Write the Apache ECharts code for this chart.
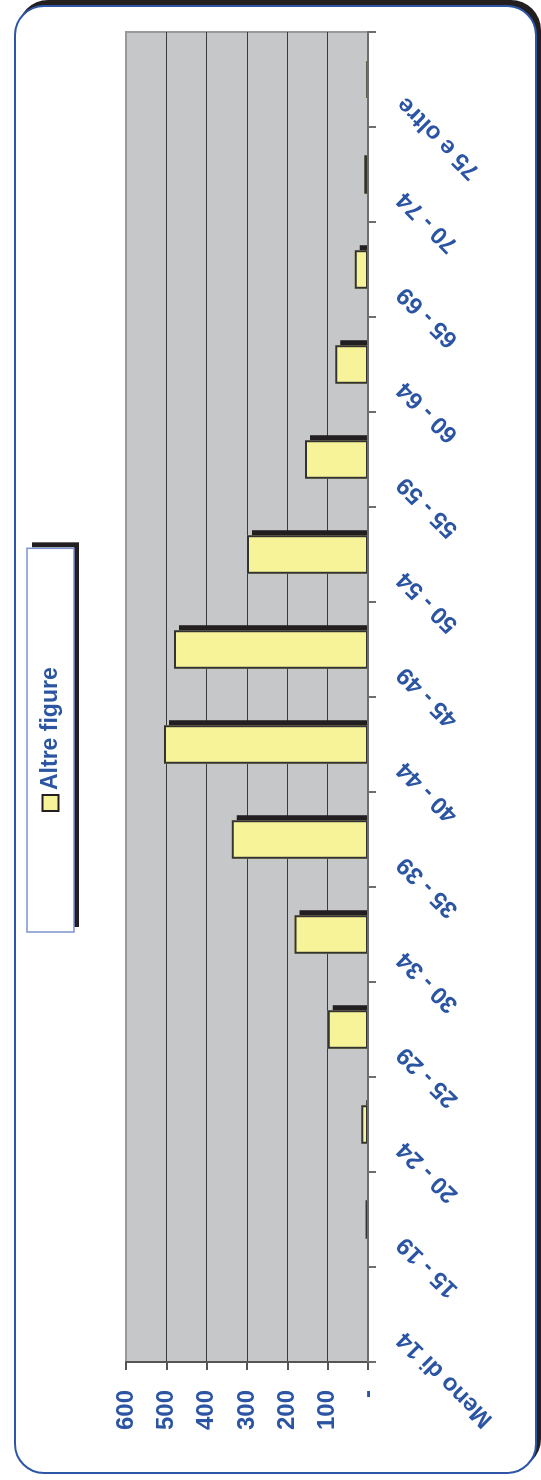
<!DOCTYPE html>
<html>
<head>
<meta charset="utf-8">
<script src="https://cdn.jsdelivr.net/npm/echarts@6.0.0/dist/echarts.min.js"></script>
<style>
html,body{margin:0;padding:0;background:#fff;width:541px;height:1480px;overflow:hidden;}
#frame{position:absolute;left:14px;top:5px;width:523px;height:1469px;box-sizing:border-box;border:2.5px solid #2e56a7;border-radius:30px;box-shadow:4px -5px 0 #231f20;background:#fff;}
#chart{position:absolute;left:0;top:0;width:1480px;height:541px;transform-origin:0 0;transform:translate(0,1480px) rotate(-90deg);}
</style>
</head>
<body>
<div id="frame"></div>
<div id="chart"></div>
<script>
// ---- data ----
const categories = ['Meno di 14','15 - 19','20 - 24','25 - 29','30 - 34','35 - 39','40 - 44','45 - 49','50 - 54','55 - 59','60 - 64','65 - 69','70 - 74','75 e oltre'];
const altreFigure = [0, 6, 17, 100, 182, 338, 506, 481, 300, 156, 81, 33, 9, 4];
const valueTickLabels = ['-','100','200','300','400','500','600'];
const seriesName = 'Altre figure';

// ---- styles ----
const blue = '#2b54a3';
const font = '"Liberation Sans", Arial, sans-serif';
const legendFontSize = 23;
const legendPadH = 120, legendPadV = 12, legendIcon = 16, legendTop = 27;

// measure legend text to place the legend box border
const mctx = document.createElement('canvas').getContext('2d');
mctx.font = 'bold ' + legendFontSize + 'px ' + font;
const legendTextW = mctx.measureText(seriesName).width;
const legendBoxW = legendPadH * 2 + legendIcon + 5 + legendTextW;
const legendBoxH = legendPadV * 2 + legendFontSize;
const legendLeft = Math.round((1480 - legendBoxW) / 2);

const chart = echarts.init(document.getElementById('chart'), null, {renderer:'canvas'});
chart.setOption({
  animation: false,
  backgroundColor: 'transparent',
  grid: {
    left: 118, right: 32, top: 126, bottom: 173,
    containLabel: false, outerBoundsMode: 'none',
    show: true, backgroundColor: '#c6c7c9', borderColor: '#999', borderWidth: 2
  },
  legend: {
    data: [seriesName],
    left: legendLeft, top: legendTop,
    padding: [legendPadV, legendPadH],
    itemWidth: legendIcon, itemHeight: legendIcon,
    icon: 'rect',
    backgroundColor: '#fff',
    borderWidth: 0, borderRadius: 0,
    shadowColor: '#231f20', shadowBlur: 0, shadowOffsetX: 5, shadowOffsetY: 5,
    itemStyle: {color:'#f6f399', borderColor:'#231f20', borderWidth:2, shadowColor:'rgba(0,0,0,0)', shadowBlur:0, shadowOffsetX:0, shadowOffsetY:0},
    textStyle: {color: blue, fontSize: legendFontSize, fontWeight: 'bold', fontFamily: font, lineHeight: legendFontSize}
  },
  xAxis: {
    type: 'category',
    data: categories,
    z: 5,
    axisLine: {show: true, lineStyle: {color: '#6d6d6d', width: 2}},
    axisTick: {show: true, length: 8, lineStyle: {color: '#6d6d6d', width: 2}},
    splitLine: {show: false},
    axisLabel: {
      interval: 0, rotate: 45, margin: 12, padding: [0, 30, 0, 0],
      color: blue, fontSize: 24, fontWeight: 'bold', fontFamily: font
    }
  },
  yAxis: {
    type: 'value',
    min: 0, max: 600, interval: 100,
    axisLine: {show: true, lineStyle: {color: '#555', width: 2}},
    axisTick: {show: true, length: 8, lineStyle: {color: '#555', width: 2}},
    splitLine: {show: true, lineStyle: {color: ['#6d6d6d','#3a3a3a','#3a3a3a','#3a3a3a','#3a3a3a','#3a3a3a','#999'], width: 1.2}},
    axisLabel: {
      margin: 28,
      formatter: (v, i) => valueTickLabels[i],
      color: blue, fontSize: 24, fontWeight: 'bold', fontFamily: font
    }
  },
  graphic: [
    { // hides bar shadows spilling below the category axis
      type: 'rect', z: 3,
      shape: {x: 119, y: 369, width: 1340, height: 7},
      style: {fill: '#fff'}
    },
    { // legend box border
      type: 'rect', z: 20,
      shape: {x: legendLeft, y: legendTop, width: legendBoxW, height: legendBoxH},
      style: {fill: null, stroke: '#7c91d0', lineWidth: 1.5}
    }
  ],
  series: [
    { // fill + drop shadow
      name: seriesName,
      type: 'bar',
      data: altreFigure,
      barWidth: '40.6%',
      barGap: '-100%',
      itemStyle: {
        color: '#f6f399', borderWidth: 0,
        shadowColor: '#231f20', shadowBlur: 0, shadowOffsetX: 5, shadowOffsetY: 5
      }
    },
    { // outline
      name: seriesName,
      type: 'bar',
      data: altreFigure,
      barWidth: '40.6%',
      barGap: '-100%',
      itemStyle: {color: 'rgba(0,0,0,0)', borderColor: '#333', borderWidth: 2}
    }
  ]
});
</script>
</body>
</html>
